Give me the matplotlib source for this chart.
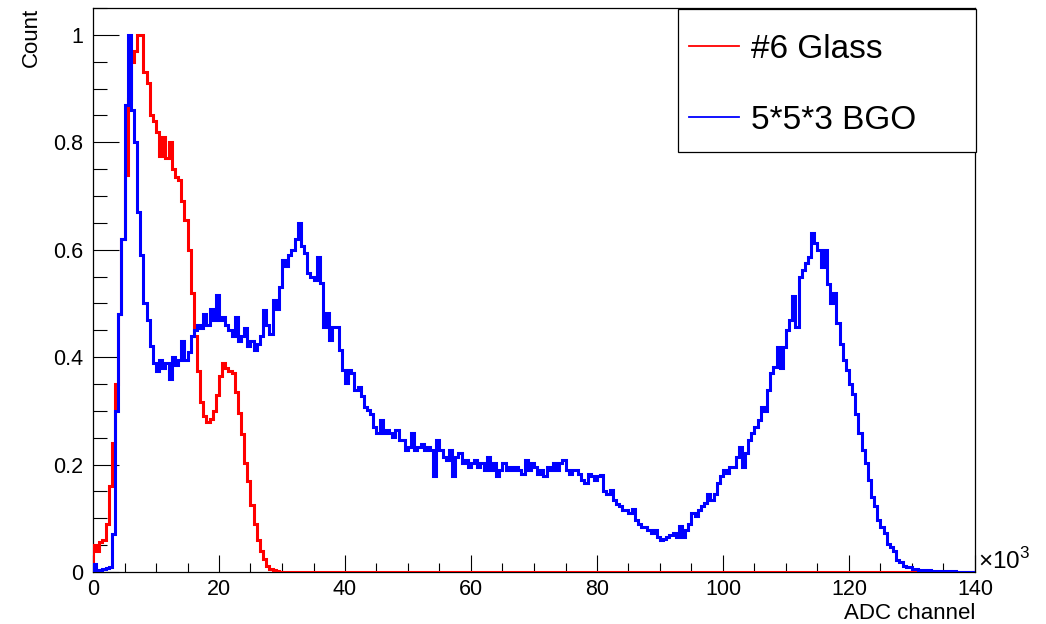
import matplotlib
matplotlib.use("Agg")
import matplotlib.pyplot as plt
import numpy as np
from matplotlib.patches import Rectangle
from matplotlib.ticker import MultipleLocator, FuncFormatter

plt.rcParams['font.family'] = ['Liberation Sans', 'DejaVu Sans']
plt.rcParams['mathtext.fontset'] = 'custom'
plt.rcParams['mathtext.rm'] = 'Liberation Sans'

# Normalised ADC spectra, 500-channel bins from 0 to 140k
bin_width = 500
x_max = 140000

glass_counts = [
    0.05, 0.04, 0.055, 0.06, 0.09, 0.16, 0.24, 0.35, 0.48, 0.62,
    0.74, 0.88, 0.95, 0.97, 1.0, 1.0, 0.93, 0.91, 0.85, 0.84,
    0.82, 0.775, 0.81, 0.77, 0.80, 0.75, 0.735, 0.73, 0.69, 0.655,
    0.60, 0.52, 0.44, 0.375, 0.316, 0.29, 0.28, 0.285, 0.30, 0.33,
    0.365, 0.39, 0.38, 0.375, 0.37, 0.336, 0.296, 0.256, 0.203, 0.17,
    0.125, 0.09, 0.06, 0.04, 0.025, 0.012, 0.006, 0.003, 0.001, 0.0,
] + [0.0] * 220

bgo_counts = [
    0.015, 0.004, 0.004, 0.006, 0.007, 0.01, 0.07, 0.30, 0.48, 0.62,
    0.87, 1.0, 0.86, 0.80, 0.67, 0.59, 0.50, 0.47, 0.42, 0.39,
    0.375, 0.395, 0.38, 0.39, 0.36, 0.40, 0.385, 0.395, 0.43, 0.395,
    0.41, 0.44, 0.45, 0.46, 0.455, 0.48, 0.46, 0.49, 0.47, 0.515,
    0.47, 0.475, 0.46, 0.45, 0.44, 0.475, 0.43, 0.44, 0.455, 0.42,
    0.43, 0.413, 0.425, 0.44, 0.488, 0.46, 0.444, 0.507, 0.49, 0.531,
    0.581, 0.569, 0.59, 0.60, 0.62, 0.649, 0.606, 0.594, 0.556, 0.55,
    0.543, 0.587, 0.538, 0.457, 0.482, 0.432, 0.457, 0.457, 0.413, 0.376,
    0.351, 0.376, 0.37, 0.339, 0.345, 0.327, 0.308, 0.302, 0.295, 0.27,
    0.258, 0.283, 0.258, 0.264, 0.258, 0.252, 0.264, 0.246, 0.246, 0.227,
    0.233, 0.258, 0.227, 0.233, 0.239, 0.227, 0.233, 0.227, 0.178, 0.246,
    0.227, 0.215, 0.208, 0.227, 0.178, 0.215, 0.221, 0.202, 0.208, 0.196,
    0.202, 0.208, 0.196, 0.202, 0.19, 0.215, 0.19, 0.202, 0.178, 0.19,
    0.202, 0.19, 0.196, 0.19, 0.196, 0.19, 0.183, 0.208, 0.19, 0.202,
    0.195, 0.183, 0.19, 0.178, 0.196, 0.19, 0.202, 0.19, 0.202, 0.208,
    0.19, 0.183, 0.19, 0.19, 0.183, 0.171, 0.165, 0.183, 0.178, 0.171,
    0.178, 0.18, 0.15, 0.146, 0.153, 0.134, 0.127, 0.122, 0.115, 0.115,
    0.109, 0.118, 0.097, 0.09, 0.084, 0.084, 0.078, 0.072, 0.078, 0.066,
    0.059, 0.062, 0.066, 0.069, 0.072, 0.066, 0.085, 0.066, 0.078, 0.09,
    0.109, 0.105, 0.115, 0.122, 0.128, 0.146, 0.134, 0.146, 0.165, 0.178,
    0.19, 0.184, 0.196, 0.196, 0.215, 0.233, 0.196, 0.221, 0.246, 0.258,
    0.27, 0.283, 0.308, 0.30, 0.339, 0.37, 0.382, 0.419, 0.38, 0.419,
    0.45, 0.469, 0.513, 0.457, 0.55, 0.562, 0.575, 0.587, 0.631, 0.612,
    0.60, 0.568, 0.60, 0.537, 0.50, 0.519, 0.463, 0.425, 0.394, 0.376,
    0.35, 0.332, 0.295, 0.258, 0.227, 0.202, 0.171, 0.14, 0.122, 0.097,
    0.084, 0.072, 0.053, 0.047, 0.04, 0.022, 0.019, 0.012, 0.009, 0.009,
    0.006, 0.005, 0.003, 0.004, 0.002, 0.003, 0.002, 0.001, 0.002, 0.001,
    0.001, 0.001, 0.0, 0.001, 0.0, 0.0, 0.0, 0.0, 0.0, 0.0,
]

labels = ["#6 Glass", "5*5*3 BGO"]
colors = ["#ff0000", "#0000ff"]

edges = np.arange(0, x_max + bin_width, bin_width)

W, H = 1046, 624
fig = plt.figure(figsize=(W / 100, H / 100), dpi=100)
ax = fig.add_axes([93 / W, 52 / H, 882 / W, 564 / H])

ax.stairs(glass_counts, edges, color=colors[0], linewidth=2.2,
          label=labels[0], zorder=2.6)
ax.stairs(bgo_counts, edges, color=colors[1], linewidth=2.2,
          label=labels[1], zorder=2.7)

ax.set_xlim(0, x_max)
ax.set_ylim(0, 1.05)

# ROOT-like axes: ticks inside, only on bottom and left
for side in ["top", "right", "bottom", "left"]:
    ax.spines[side].set_linewidth(0.9)
ax.xaxis.set_major_locator(MultipleLocator(20000))
ax.xaxis.set_minor_locator(MultipleLocator(5000))
ax.yaxis.set_major_locator(MultipleLocator(0.2))
ax.yaxis.set_minor_locator(MultipleLocator(0.05))
ax.xaxis.set_major_formatter(FuncFormatter(lambda v, p: "%g" % (v / 1000)))
ax.yaxis.set_major_formatter(FuncFormatter(lambda v, p: "%g" % round(v, 2)))
ax.tick_params(axis="x", which="major", direction="in", length=12.5, width=0.8,
               labelsize=15.5, pad=5)
ax.tick_params(axis="x", which="minor", direction="in", length=6.2, width=0.8)
ax.tick_params(axis="y", which="major", direction="in", length=19, width=0.8,
               labelsize=15.5, pad=7)
ax.tick_params(axis="y", which="minor", direction="in", length=10, width=0.8)

ax.text(1.003, -0.004, r"$\times$10$^{3}$", transform=ax.transAxes,
        ha="left", va="bottom", fontsize=17.5)

ax.set_xlabel("ADC channel", fontsize=16, loc="right", labelpad=2)
ax.set_ylabel("Count", fontsize=16, loc="top")
ax.yaxis.set_label_coords(-0.058, 1.0)

# legend box drawn separately so the entries can sit where wanted
ax.add_patch(Rectangle((678 / W, 1 - 152 / H), 298 / W, 143 / H,
                       transform=fig.transFigure, facecolor="white",
                       edgecolor="black", linewidth=0.9, clip_on=False,
                       zorder=4))
leg = ax.legend(loc="upper left", bbox_to_anchor=(689 / W, 1 - 34 / H),
                bbox_transform=fig.transFigure, borderaxespad=0, borderpad=0,
                fontsize=24, handlelength=1.5, handletextpad=0.35,
                labelspacing=1.2, frameon=False)
leg.set_zorder(5)
for line in leg.get_lines():
    line.set_linewidth(1.3)

fig.savefig("out.png", dpi=100)
